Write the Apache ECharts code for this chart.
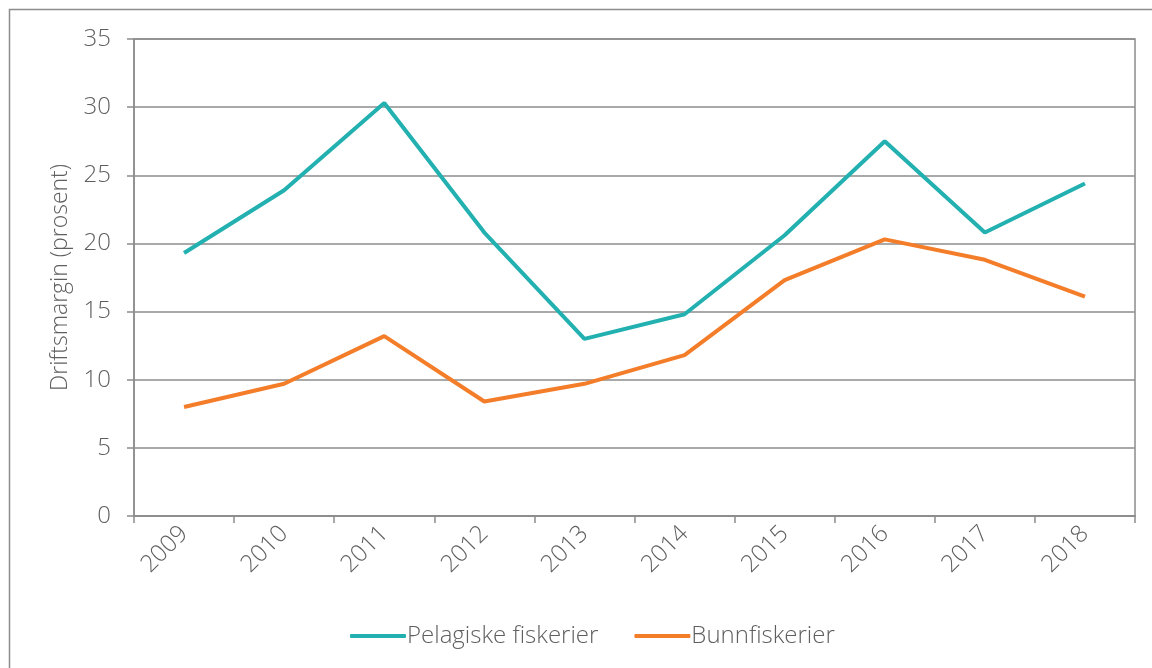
<!DOCTYPE html>
<html lang="no" style="height: 100%">
<head>
  <meta charset="utf-8">
</head>
<body style="height: 100%; margin: 0; background: #fff">
  <div id="container" style="width: 1152px; height: 668px"></div>
  <script type="text/javascript" src="https://fastly.jsdelivr.net/npm/echarts@6.0.0/dist/echarts.min.js"></script>
  <script type="text/javascript">
const years = ['2009', '2010', '2011', '2012', '2013', '2014', '2015', '2016', '2017', '2018'];
const pelagiske = [19.3, 23.9, 30.3, 20.8, 13.0, 14.8, 20.6, 27.5, 20.8, 24.4];
const bunn = [8.0, 9.7, 13.2, 8.4, 9.7, 11.8, 17.3, 20.3, 18.8, 16.1];

var myChart = echarts.init(document.getElementById('container'), null, { renderer: 'canvas' });
var font = '"Open Sans"';
var textColor = '#5f5f5f';
var lineColor = '#8c8c8c';

var option = {
  animation: false,
  graphic: [{
    type: 'rect',
    shape: { x: 9.5, y: 9.5, width: 1200, height: 700 },
    style: { fill: 'none', stroke: '#8c8c8c', lineWidth: 1.5 },
    silent: true
  }],
  grid: {
    left: 134, right: 17, top: 39, bottom: 152,
    show: true, borderColor: lineColor, borderWidth: 1.5
  },
  legend: {
    bottom: 15,
    left: 345,
    itemWidth: 56,
    itemHeight: 4,
    itemGap: 36,
    icon: 'roundRect',
    textStyle: { fontFamily: font, fontSize: 24, fontWeight: 300, color: textColor, padding: [0, 0, 0, -4] },
    data: ['Pelagiske fiskerier', 'Bunnfiskerier']
  },
  xAxis: {
    type: 'category',
    data: years,
    boundaryGap: true,
    axisLine: { lineStyle: { color: lineColor, width: 1.5 } },
    axisTick: { show: true, length: 7, lineStyle: { color: lineColor, width: 1.5 } },
    axisLabel: { rotate: 45, margin: 14, fontFamily: font, fontSize: 24, fontWeight: 300, color: textColor }
  },
  yAxis: {
    type: 'value',
    min: 0, max: 35, interval: 5,
    name: 'Driftsmargin (prosent)',
    nameLocation: 'middle',
    nameGap: 62,
    nameTextStyle: { fontFamily: font, fontSize: 23, fontWeight: 300, color: textColor },
    axisLine: { show: true, lineStyle: { color: lineColor, width: 1.5 } },
    axisTick: { show: true, length: 7, lineStyle: { color: lineColor, width: 1.5 } },
    splitLine: { lineStyle: { color: lineColor, width: 1.5 } },
    axisLabel: { margin: 23, fontFamily: font, fontSize: 24, fontWeight: 300, color: textColor }
  },
  series: [
    {
      name: 'Pelagiske fiskerier',
      type: 'line',
      data: pelagiske,
      symbol: 'none',
      color: '#22b0b0',
      lineStyle: { width: 4, color: '#22b0b0' }
    },
    {
      name: 'Bunnfiskerier',
      type: 'line',
      data: bunn,
      symbol: 'none',
      color: '#f47d2a',
      lineStyle: { width: 4, color: '#f47d2a' }
    }
  ]
};
myChart.setOption(option);
window.addEventListener('resize', myChart.resize);
  </script>
</body>
</html>
